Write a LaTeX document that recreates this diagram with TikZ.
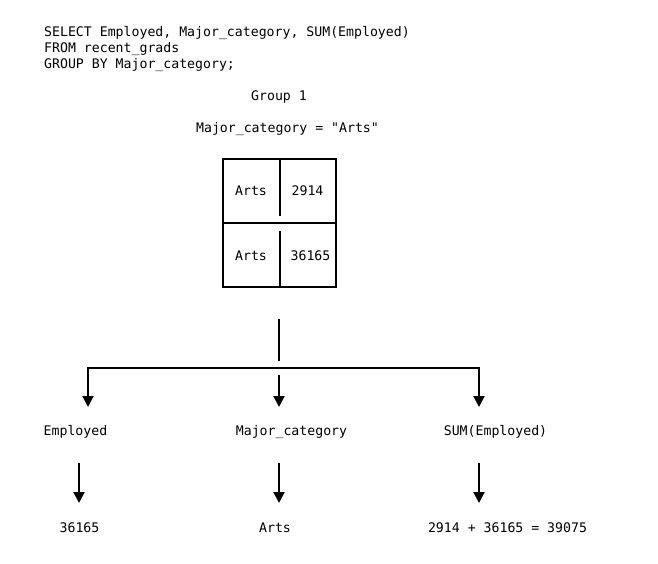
\documentclass[tikz,border=0pt]{standalone}
\usepackage{fontspec}
\setmonofont{DejaVu Sans Mono}
\usetikzlibrary{arrows.meta}
\begin{document}
\begin{tikzpicture}[x=1pt,y=-1pt,
  txt/.style={inner sep=0pt,anchor=base,font=\ttfamily\fontsize{13.2}{16}\selectfont},
  ln/.style={line width=2pt},
  arr/.style={line width=2pt,-{Triangle[width=11pt,length=11pt]}}]
\fill[white] (0,0) rectangle (658,564);
\useasboundingbox (0,0) rectangle (658,564);
% SQL
\node[txt,anchor=base west] (q1) at (44,36.5) {SELECT Employed, Major\_category, SUM(Employed)};
\node[txt,anchor=base west] (q2) at (44,52.5) {FROM recent\_grads};
\node[txt,anchor=base west] (q3) at (44,68.5) {GROUP BY Major\_category;};
\node[txt] (grp) at (279,101) {Group 1};
\node[txt] (cond) at (287.5,133) {Major\_category = "Arts"};
% table
\node[ln,draw,minimum width=113pt,minimum height=128pt,inner sep=0pt] (tbl) at (279.5,223) {};
\draw[ln] (tbl.west) -- (tbl.east);
\coordinate (d1) at (279.5,216);
\coordinate (d2) at (279.5,231);
\draw[ln] (tbl.north) -- (d1);
\draw[ln] (d2) -- (tbl.south);
\node[txt] (c11) at (251,196) {Arts};
\node[txt] (c12) at (307.5,196) {2914};
\node[txt] (c21) at (251,260) {Arts};
\node[txt] (c22) at (310.5,260) {36165};
% splitter
\coordinate (st) at (279,319);
\coordinate (sb) at (279,361);
\coordinate (hm) at (279,368);
\coordinate (ms) at (279,375);
\coordinate (tL) at (88,407);
\coordinate (tM) at (279,407);
\coordinate (tR) at (479,407);
\draw[ln] (st) -- (sb);
\draw[arr] (hm) -| (tL);
\draw[arr] (hm) -| (tR);
\draw[arr] (ms) -- (tM);
% labels
\node[txt] (lE) at (75.5,435.5) {Employed};
\node[txt] (lM) at (291.5,435.5) {Major\_category};
\node[txt] (lS) at (495.5,435.5) {SUM(Employed)};
% second arrows
\coordinate (aL1) at (79,463);
\coordinate (aL2) at (79,503);
\coordinate (aM1) at (279,463);
\coordinate (aM2) at (279,503);
\coordinate (aR1) at (479,463);
\coordinate (aR2) at (479,503);
\draw[arr] (aL1) -- (aL2);
\draw[arr] (aM1) -- (aM2);
\draw[arr] (aR1) -- (aR2);
% values
\node[txt] (vE) at (79.5,532) {36165};
\node[txt] (vM) at (275,532) {Arts};
\node[txt] (vS) at (507.5,532) {2914 + 36165 = 39075};
\end{tikzpicture}
\end{document}
